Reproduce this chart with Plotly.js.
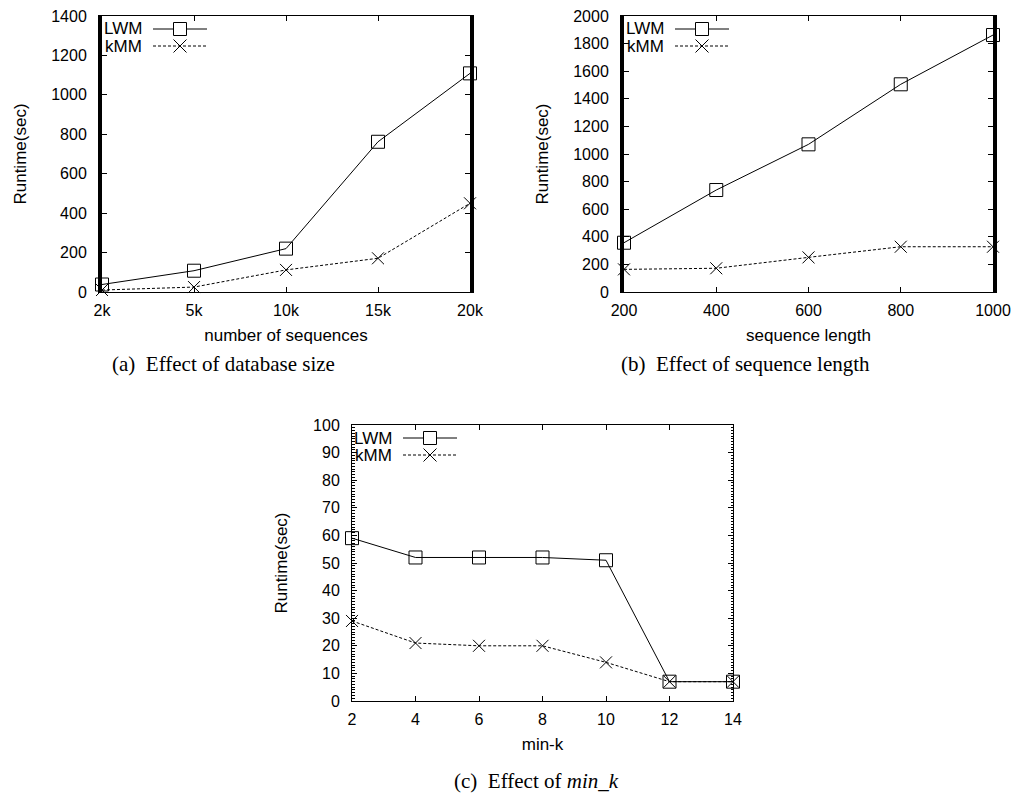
<!DOCTYPE html>
<html>
<head>
<meta charset="utf-8">
<script src="https://cdn.plot.ly/plotly-3.0.1.min.js"></script>
<style>
html,body{margin:0;padding:0;background:#fff;}
#chart{width:1016px;height:798px;}
</style>
</head>
<body>
<div id="chart"></div>
<script>
// ---- data ----
const seriesNames = ['LWM', 'kMM'];

const dbSizeLabels = ['2k', '5k', '10k', '15k', '20k'];
const dbSizeLWM = [38, 108, 220, 762, 1109];
const dbSizeKMM = [10, 25, 112, 171, 450];

const seqLength = [200, 400, 600, 800, 1000];
const seqLengthLWM = [357, 739, 1070, 1505, 1862];
const seqLengthKMM = [164, 172, 251, 328, 328];

const minK = [2, 4, 6, 8, 10, 12, 14];
const minKLWM = [59, 52, 52, 52, 51, 7, 7];
const minKKMM = [29, 21, 20, 20, 14, 7, 7];

const captions = ['(a)\u00A0 Effect of database size', '(b)\u00A0 Effect of sequence length', '(c)\u00A0 Effect of <i>min_k</i>'];
const xTitles = ['number of sequences', 'sequence length', 'min-k'];
const yTitle = 'Runtime(sec)';

// ---- layout helpers ----
const W = 1016, H = 798;
const px = x => x / W;
const py = y => 1 - y / H;
const SANS = '"Liberation Sans", Arial, Helvetica, sans-serif';
const SERIF = '"Liberation Serif", "Times New Roman", serif';

const boxes = {
  a: {L: 102, R: 470, T: 16, B: 292},
  b: {L: 624, R: 993, T: 16, B: 292},
  c: {L: 352, R: 733, T: 425, B: 701}
};

function lwmStyle() {
  return {mode: 'lines+markers', line: {color: 'black', width: 1},
    marker: {symbol: 'square-open', size: 13, color: 'black', line: {color: 'black', width: 1}},
    cliponaxis: false, showlegend: false};
}
function kmmStyle() {
  return {mode: 'lines+markers', line: {color: 'black', width: 1, dash: '3px,2px'},
    marker: {symbol: 'x-thin-open', size: 12, color: 'black', line: {color: 'black', width: 1}},
    cliponaxis: false, showlegend: false};
}

const traces = [
  Object.assign({x: dbSizeLabels, y: dbSizeLWM, name: seriesNames[0], xaxis: 'x', yaxis: 'y'}, lwmStyle()),
  Object.assign({x: dbSizeLabels, y: dbSizeKMM, name: seriesNames[1], xaxis: 'x', yaxis: 'y'}, kmmStyle()),
  Object.assign({x: seqLength, y: seqLengthLWM, name: seriesNames[0], xaxis: 'x2', yaxis: 'y2'}, lwmStyle()),
  Object.assign({x: seqLength, y: seqLengthKMM, name: seriesNames[1], xaxis: 'x2', yaxis: 'y2'}, kmmStyle()),
  Object.assign({x: minK, y: minKLWM, name: seriesNames[0], xaxis: 'x3', yaxis: 'y3'}, lwmStyle()),
  Object.assign({x: minK, y: minKKMM, name: seriesNames[1], xaxis: 'x3', yaxis: 'y3'}, kmmStyle())
];

function xAxis(box, anchor, extra) {
  return Object.assign({
    domain: [px(box.L), px(box.R)], anchor: anchor,
    showline: true, linecolor: 'black', linewidth: 1, mirror: 'ticks',
    ticks: 'inside', ticklen: 5, tickwidth: 1, tickcolor: 'black',
    ticklabelstandoff: 4,
    showgrid: false, zeroline: false,
    tickfont: {family: SANS, size: 16, color: 'black'},
    fixedrange: true
  }, extra);
}
function yAxis(box, anchor, extra) {
  return Object.assign({
    domain: [py(box.B), py(box.T)], anchor: anchor,
    showline: true, linecolor: 'black', linewidth: 1, mirror: 'ticks',
    ticks: 'inside', ticklen: 5, tickwidth: 1, tickcolor: 'black',
    ticklabelstandoff: 8,
    showgrid: false, zeroline: false,
    tickfont: {family: SANS, size: 16, color: 'black'},
    title: {text: yTitle, font: {family: SANS, size: 17, color: 'black'}, standoff: 21},
    fixedrange: true
  }, extra);
}

const xtf = {family: SANS, size: 17, color: 'black'};

const layout = {
  width: W, height: H,
  margin: {l: 0, r: 0, t: 0, b: 0},
  paper_bgcolor: 'white', plot_bgcolor: 'white',
  showlegend: false,
  font: {family: SANS, color: 'black'},
  xaxis: xAxis(boxes.a, 'y', {type: 'category', range: [0, 4],
    title: {text: xTitles[0], font: xtf, standoff: 10}}),
  yaxis: yAxis(boxes.a, 'x', {range: [0, 1400], dtick: 200, linewidth: 4}),
  xaxis2: xAxis(boxes.b, 'y2', {range: [200, 1000], dtick: 200,
    title: {text: xTitles[1], font: xtf, standoff: 10}}),
  yaxis2: yAxis(boxes.b, 'x2', {range: [0, 2000], dtick: 200, linewidth: 4}),
  xaxis3: xAxis(boxes.c, 'y3', {range: [2, 14], dtick: 2,
    title: {text: xTitles[2], font: xtf, standoff: 10}}),
  yaxis3: yAxis(boxes.c, 'x3', {range: [0, 100], dtick: 10,
    minor: {dtick: 1, ticks: 'inside', ticklen: 2.5, tickwidth: 1, tickcolor: 'black', showgrid: false}}),
  shapes: [],
  annotations: []
};

// gnuplot-style key: label on the left, sample on the right
function addKey(box, r1, r2) {
  const L = box.L, T = box.T;
  const rows = [T + r1, T + r2];
  rows.forEach((yy, i) => {
    layout.annotations.push({xref: 'paper', yref: 'paper', x: px(L + 41), y: py(yy),
      xanchor: 'right', yanchor: 'middle', showarrow: false, text: seriesNames[i],
      height: 15, valign: 'middle', borderpad: 0,
      font: {family: SANS, size: 17, color: 'black'}});
    layout.shapes.push({type: 'line', xref: 'paper', yref: 'paper',
      x0: px(L + 51), x1: px(L + 105), y0: py(yy), y1: py(yy),
      line: {color: 'black', width: 1, dash: i === 0 ? 'solid' : '3px,2px'}});
  });
  const cx = L + 78;
  layout.shapes.push({type: 'rect', xref: 'paper', yref: 'paper',
    x0: px(cx - 6.5), x1: px(cx + 6.5), y0: py(rows[0] - 6.5), y1: py(rows[0] + 6.5),
    fillcolor: 'white', line: {color: 'black', width: 1}});
  layout.shapes.push({type: 'line', xref: 'paper', yref: 'paper',
    x0: px(cx - 6.5), x1: px(cx + 6.5), y0: py(rows[1] - 6.5), y1: py(rows[1] + 6.5),
    line: {color: 'black', width: 1}});
  layout.shapes.push({type: 'line', xref: 'paper', yref: 'paper',
    x0: px(cx - 6.5), x1: px(cx + 6.5), y0: py(rows[1] + 6.5), y1: py(rows[1] - 6.5),
    line: {color: 'black', width: 1}});
}
addKey(boxes.a, 13, 30);
addKey(boxes.b, 13, 30);
addKey(boxes.c, 13, 30);

// sub-figure captions
const capPos = [[110, 364], [619, 364], [452, 781]];
captions.forEach((t, i) => {
  layout.annotations.push({xref: 'paper', yref: 'paper', x: px(capPos[i][0]), y: py(capPos[i][1]),
    xanchor: 'left', yanchor: 'middle', showarrow: false, text: t,
    font: {family: SERIF, size: 21, color: 'black'}});
});

Plotly.newPlot('chart', traces, layout, {displayModeBar: false, staticPlot: true});
</script>
</body>
</html>
